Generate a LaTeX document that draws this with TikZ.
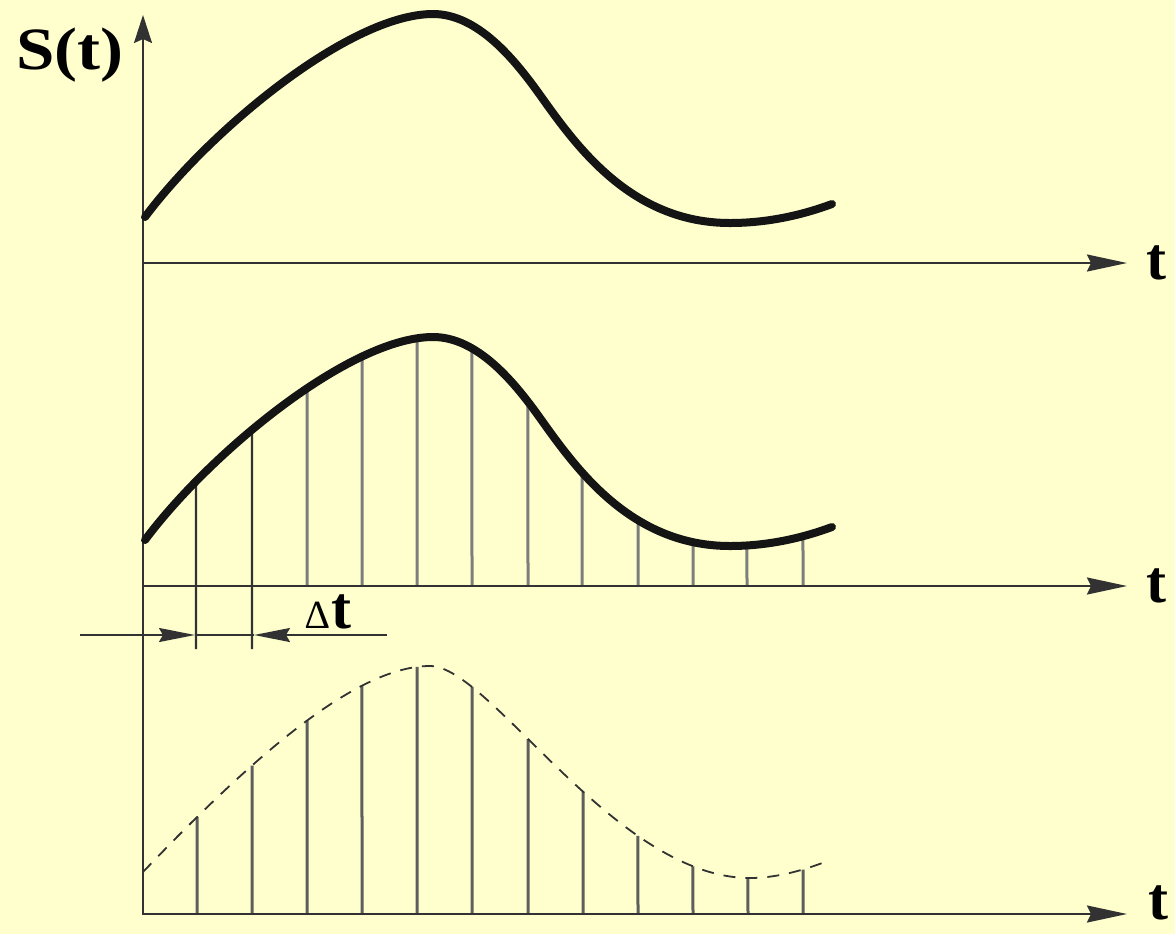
\documentclass[tikz,border=0pt]{standalone}
\usepackage{fontspec}
\setmainfont{Liberation Serif}
\usetikzlibrary{arrows.meta,intersections}
\definecolor{bgyellow}{RGB}{255,255,206}
\definecolor{curvecol}{RGB}{20,20,20}
\definecolor{axiscol}{RGB}{50,50,50}
\definecolor{stemcol}{RGB}{125,125,125}
\tikzset{
  axisline/.style={draw=axiscol, line width=1pt},
  haxis/.style={axisline, -{Stealth[length=20pt, width=8.5pt, inset=2pt]}},
  vaxis/.style={axisline, -{Stealth[length=14pt, width=9pt, inset=2pt]}},
  sigcurve/.style={draw=curvecol, line width=4pt, line cap=round, line join=round},
  dashcurve/.style={draw=axiscol, line width=0.9pt, dash pattern=on 6pt off 5pt},
  stemline/.style={draw=stemcol, line width=1.5pt},
  dimarrow/.style={axisline, -{Stealth[length=18pt, width=7pt, inset=2pt]}},
  lbl/.style={font=\bfseries\fontsize{30}{30}\selectfont, inner sep=0pt},
}
\begin{document}
\begin{tikzpicture}[x=0.5pt, y=-0.5pt]
\fill[bgyellow] (0,0) rectangle (1175,934);
\useasboundingbox (0,0) rectangle (1175,934);

% axes coordinates
\coordinate (vbot) at (143,915);
\coordinate (vtop) at (143,15);
\coordinate (a1s) at (143,263); \coordinate (a1e) at (1127,263);
\coordinate (a2s) at (143,586); \coordinate (a2e) at (1127,586);
\coordinate (a3s) at (143,914); \coordinate (a3e) at (1127,914);

% curve paths (named, not drawn yet)
\path[name path=midc] (145,540) .. controls (210,453) and (350,337) .. (433,337)
   .. controls (478,337) and (515,383) .. (540,418)
   .. controls (575,467) and (630,546) .. (730,546)
   .. controls (770,546) and (805,537) .. (832,527);
\path[name path=botc] (143,872) .. controls (250,760) and (355,666) .. (430,666)
   .. controls (490,666) and (615,878) .. (750,878)
   .. controls (780,878) and (810,868) .. (830,860);

% stems (middle)
\foreach \x [count=\i] in {307,362,417,472,528,582,638,693,747,803} {
  \path[name path=v] (\x,600) -- (\x,300);
  \draw[stemline, name intersections={of=midc and v, by=m\i}] (\x,586) -- (m\i);
}
\foreach \x [count=\i] in {196,252} {
  \path[name path=v] (\x,600) -- (\x,300);
  \draw[axisline, line width=1.1pt, name intersections={of=midc and v, by=n\i}] (\x,649) -- (n\i);
}

% stems (bottom)
\foreach \x [count=\i] in {197,252,307,362,417,472,528,583,638,693,748,803} {
  \path[name path=v] (\x,930) -- (\x,620);
  \draw[stemline, draw=stemcol!75!black, name intersections={of=botc and v, by=b\i}] (\x,914) -- (b\i);
}

% axes
\draw[vaxis] (vbot) -- (vtop);
\draw[haxis] (a1s) -- (a1e);
\draw[haxis] (a2s) -- (a2e);
\draw[haxis] (a3s) -- (a3e);

% curves
\draw[sigcurve] (145,217) .. controls (210,130) and (350,14) .. (433,14)
   .. controls (478,14) and (515,60) .. (540,95)
   .. controls (575,144) and (630,223) .. (730,223)
   .. controls (770,223) and (805,214) .. (832,204);
\draw[sigcurve] (145,540) .. controls (210,453) and (350,337) .. (433,337)
   .. controls (478,337) and (515,383) .. (540,418)
   .. controls (575,467) and (630,546) .. (730,546)
   .. controls (770,546) and (805,537) .. (832,527);
\draw[dashcurve] (143,872) .. controls (250,760) and (355,666) .. (430,666)
   .. controls (490,666) and (615,878) .. (750,878)
   .. controls (780,878) and (810,868) .. (830,860);

% delta t dimension
\coordinate (d0) at (80,635);
\coordinate (d1) at (195,635);
\coordinate (d2) at (254,635);
\coordinate (d3) at (387,635);
\draw[axisline] (d1) -- (d2);
\draw[dimarrow] (d0) -- (d1);
\draw[dimarrow] (d3) -- (d2);

% labels
\node[lbl] (sl) at (70,55) {\scalebox{1.15}[1]{S(t)}};
\node[lbl, anchor=west] (t1) at (1146,263) {t};
\node[lbl, anchor=west] (t2) at (1146,586) {t};
\node[lbl, anchor=base west] (t3) at (1148,919) {t};
\node[inner sep=0pt, anchor=south west] (dt) at (305,629)
  {\fontsize{20}{20}\selectfont ∆\hspace{1pt}\bfseries\fontsize{30}{30}\selectfont t};
\end{tikzpicture}
\end{document}
